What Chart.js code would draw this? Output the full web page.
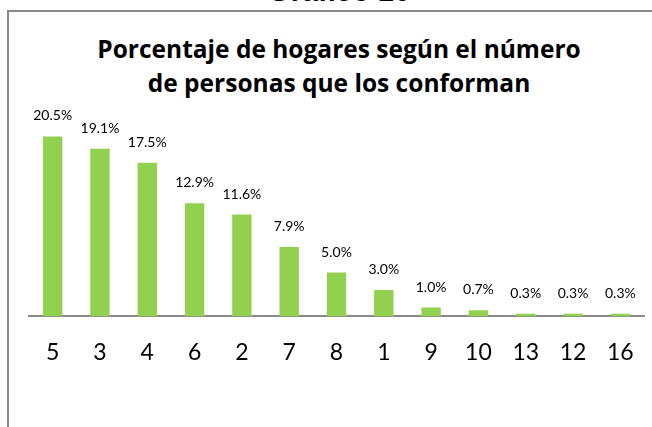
<!DOCTYPE html>
<html>
<head>
<meta charset="utf-8">
<script src="https://cdn.jsdelivr.net/npm/chart.js@4"></script>
<style>
html,body{margin:0;padding:0;background:#fff;}
#wrap{position:relative;width:652px;height:427px;overflow:hidden;}
#frame{position:absolute;left:7px;top:10px;width:700px;height:500px;border-left:2px solid #8a8a8a;border-top:2px solid #8a8a8a;}
#sup{position:absolute;left:0;width:678px;top:-26px;text-align:center;font:bold 29px "Liberation Sans",Arial,sans-serif;color:#000;line-height:34px;}
#title{position:absolute;left:0;width:678px;top:32px;text-align:center;font:bold 24.5px "Open Sans",sans-serif;color:#000;line-height:34px;}
canvas{position:absolute;left:0;top:0;}
</style>
</head>
<body>
<div id="wrap">
<div id="sup">Gráfico 16</div>
<div id="frame"></div>
<div id="title">Porcentaje de hogares según el número<br>de personas que los conforman</div>
<canvas id="c" width="652" height="427"></canvas>
</div>
<script>
const categories = ["5","3","4","6","2","7","8","1","9","10","13","12","16"];
const percentages = [20.5,19.1,17.5,12.9,11.6,7.9,5.0,3.0,1.0,0.7,0.3,0.3,0.3];

const labelPlugin = {
  id:'barLabels',
  afterDatasetsDraw(chart){
    const ctx = chart.ctx;
    const meta = chart.getDatasetMeta(0);
    ctx.save();
    ctx.font = '14px Lato, sans-serif';
    ctx.fillStyle = '#000';
    ctx.textAlign = 'center';
    ctx.textBaseline = 'alphabetic';
    meta.data.forEach((bar,i)=>{
      ctx.fillText(percentages[i].toFixed(1)+'%', bar.x, bar.y - 16);
    });
    ctx.restore();
  }
};

new Chart(document.getElementById('c'),{
  type:'bar',
  data:{labels:categories,datasets:[{data:percentages,backgroundColor:'#92d050',borderWidth:0,categoryPercentage:1,barPercentage:0.41}]},
  options:{
    responsive:false,animation:false,
    layout:{padding:{left:29,right:8,top:97,bottom:47}},
    plugins:{legend:{display:false},tooltip:{enabled:false}},
    scales:{
      y:{display:false,min:0,max:25},
      x:{grid:{display:false},border:{display:true,color:'#8a8a8a',width:2},
         ticks:{color:'#000',font:{family:'Lato',size:23},padding:14}}
    }
  },
  plugins:[labelPlugin]
});
</script>
</body>
</html>
